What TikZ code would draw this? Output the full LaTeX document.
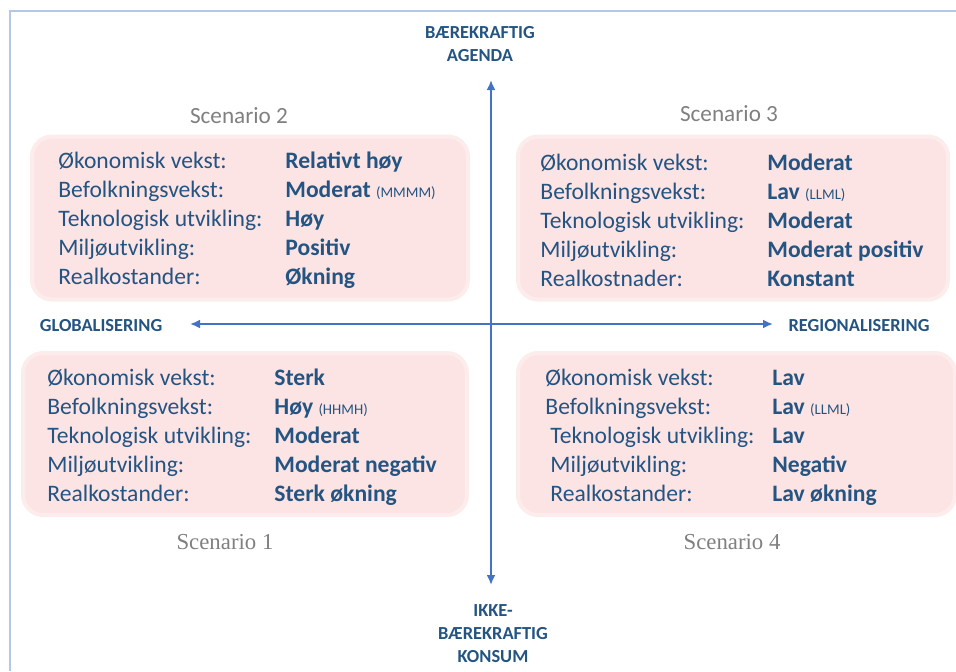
\documentclass[tikz,border=0pt]{standalone}
\usepackage{fontspec}
\setmainfont{Carlito}
\newfontfamily\timesfont{Liberation Serif}
\usetikzlibrary{positioning, arrows.meta}

\definecolor{txtblue}{RGB}{36,84,130}
\definecolor{axisblue}{RGB}{68,114,196}
\definecolor{boxpink}{RGB}{252,228,228}
\definecolor{framegray}{RGB}{180,199,231}
\definecolor{scengray}{RGB}{128,128,128}

\newcommand{\rowpair}[2]{\makebox[113.5pt][l]{#1}\textbf{#2}}
\newcommand{\code}[1]{{\mdseries\fontsize{7.4}{7.4}\selectfont(#1)}}

\begin{document}
\begin{tikzpicture}[x=0.5pt, y=-0.5pt,
    scenbox/.style = {fill = boxpink, draw = boxpink!70, line width = 2pt, rounded corners = 10pt},
    factxt/.style = {text = txtblue, align = left, inner sep = 0pt, anchor = west,
                     font = \fontsize{11.8}{14.5}\selectfont},
    scentitle/.style = {text = scengray, inner sep = 0pt, font = \fontsize{11.6}{14}\selectfont},
    axislabel/.style = {text = txtblue, align = center, inner sep = 0pt,
                        font = \bfseries\fontsize{9.2}{11.5}\selectfont},
    axis/.style = {axisblue, line width = 1.1pt, {Latex[length=5pt, width=4.5pt]}-{Latex[length=5pt, width=4.5pt]}}]

    \useasboundingbox (0,0) rectangle (956,671);
    \draw [framegray, line width = 1pt] (10,671) -- (10,11) -- (956,11);

    % boxes
    \node [scenbox, minimum width = 218pt, minimum height = 81.5pt] (box2) at (250, 218) {};
    \node [scenbox, minimum width = 215pt, minimum height = 81.5pt] (box3) at (733, 218) {};
    \node [scenbox, minimum width = 222pt, minimum height = 81pt] (box1) at (245, 434) {};
    \node [scenbox, minimum width = 218.5pt, minimum height = 81pt] (box4) at (736.5, 434) {};

    % titles
    \node [scentitle] (title2) at (239, 116) {Scenario 2};
    \node [scentitle] (title3) at (729, 114) {Scenario 3};
    \node [scentitle, font = \timesfont\fontsize{11.4}{14}\selectfont] (title1) at (225, 542) {Scenario 1};
    \node [scentitle, font = \timesfont\fontsize{11.4}{14}\selectfont] (title4) at (732, 542) {Scenario 4};

    % texts
    \node [factxt] (facts2) at (58, 220) {\rowpair{Økonomisk vekst:}{Relativt høy}\\
        \rowpair{Befolkningsvekst:}{Moderat \code{MMMM}}\\
        \rowpair{Teknologisk utvikling:}{Høy}\\
        \rowpair{Miljøutvikling:}{Positiv}\\
        \rowpair{Realkostander:}{Økning}};
    \node [factxt] (facts3) at (540, 220) {\rowpair{Økonomisk vekst:}{Moderat}\\
        \rowpair{Befolkningsvekst:}{Lav \code{LLML}}\\
        \rowpair{Teknologisk utvikling:}{Moderat}\\
        \rowpair{Miljøutvikling:}{Moderat positiv}\\
        \rowpair{Realkostnader:}{Konstant}};
    \node [factxt] (facts1) at (47, 437) {\rowpair{Økonomisk vekst:}{Sterk}\\
        \rowpair{Befolkningsvekst:}{Høy \code{HHMH}}\\
        \rowpair{Teknologisk utvikling:}{Moderat}\\
        \rowpair{Miljøutvikling:}{Moderat negativ}\\
        \rowpair{Realkostander:}{Sterk økning}};
    \node [factxt] (facts4) at (545, 437) {\rowpair{Økonomisk vekst:}{Lav}\\
        \rowpair{Befolkningsvekst:}{Lav \code{LLML}}\\
        \hspace*{2.5pt}\rowpair{Teknologisk utvikling:}{\hspace*{-2.5pt}Lav}\\
        \hspace*{2.5pt}\rowpair{Miljøutvikling:}{\hspace*{-2.5pt}Negativ}\\
        \hspace*{2.5pt}\rowpair{Realkostander:}{\hspace*{-2.5pt}Lav økning}};

    % axes
    \node [axislabel] (agenda) at (480, 44) {BÆREKRAFTIG\\AGENDA};
    \node [axislabel] (konsum) at (493, 634) {IKKE-\\BÆREKRAFTIG\\KONSUM};
    \node [axislabel] (global) at (101, 326) {GLOBALISERING};
    \node [axislabel] (region) at (859, 326) {REGIONALISERING};

    \coordinate (ntip) at (491, 80);
    \coordinate (stip) at (491, 585);
    \coordinate (wtip) at (190, 324);
    \coordinate (etip) at (773, 324);
    \draw [axis] (stip) -- (ntip);
    \draw [axis] (wtip) -- (etip);
\end{tikzpicture}
\end{document}
